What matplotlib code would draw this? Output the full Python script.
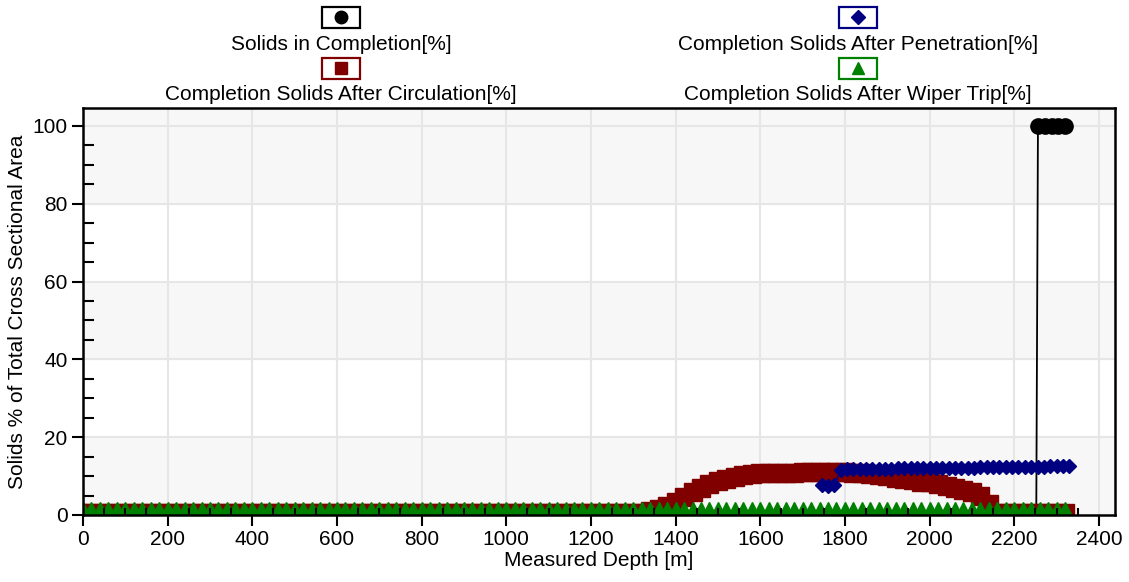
import matplotlib
matplotlib.use("Agg")
import matplotlib.pyplot as plt
from matplotlib.ticker import MultipleLocator
from matplotlib.patches import Rectangle
from matplotlib.lines import Line2D

plt.rcParams['font.family'] = ['Liberation Sans', 'DejaVu Sans']

# depth grid of the circulation / wiper-trip series [m]
depth = [
    0, 20, 40, 60, 80, 100, 120, 140, 160, 180, 200, 220, 240, 260, 280, 300,
    320, 340, 360, 380, 400, 420, 440, 460, 480, 500, 520, 540, 560, 580, 600,
    620, 640, 660, 680, 700, 720, 740, 760, 780, 800, 820, 840, 860, 880, 900,
    920, 940, 960, 980, 1000, 1020, 1040, 1060, 1080, 1100, 1120, 1140, 1160,
    1180, 1200, 1220, 1240, 1260, 1280, 1300, 1320, 1340, 1360, 1380, 1400,
    1420, 1440, 1460, 1480, 1500, 1520, 1540, 1560, 1580, 1600, 1620, 1640,
    1660, 1680, 1700, 1720, 1740, 1760, 1780, 1800, 1820, 1840, 1860, 1880,
    1900, 1920, 1940, 1960, 1980, 2000, 2020, 2040, 2060, 2080, 2100, 2120,
    2140, 2160, 2180, 2200, 2220, 2240, 2260, 2280, 2300, 2320,
]
after_circulation = [
    0.4, 0.4, 0.4, 0.4, 0.4, 0.4, 0.4, 0.4, 0.4, 0.4, 0.4, 0.4, 0.4, 0.4, 0.4, 0.4,
    0.4, 0.4, 0.4, 0.4, 0.4, 0.4, 0.4, 0.4, 0.4, 0.4, 0.4, 0.4, 0.4, 0.4, 0.4,
    0.4, 0.4, 0.4, 0.4, 0.4, 0.4, 0.4, 0.4, 0.4, 0.4, 0.4, 0.4, 0.4, 0.4, 0.4,
    0.4, 0.4, 0.4, 0.4, 0.4, 0.4, 0.4, 0.4, 0.4, 0.4, 0.4, 0.4, 0.4,
    0.4, 0.4, 0.4, 0.4, 0.4, 0.4, 0.4, 0.6, 1.0, 1.6, 2.3, 3.3,
    4.7, 6.0, 7.0, 8.0, 8.8, 9.3, 9.8, 10.2, 10.5, 10.8, 10.8, 10.9,
    10.9, 10.9, 11.0, 11.0, 11.0, 11.0, 11.0, 11.0, 10.9, 10.8, 10.6, 10.3,
    9.9, 9.5, 9.2, 8.9, 8.6, 8.4, 7.9, 7.4, 6.9, 6.3, 5.8, 5.0,
    2.8, 0.4, 0.4, 0.4, 0.4, 0.4, 0.4, 0.4, 0.4, 0.4,
]
after_wiper_trip = [
    1.5, 1.5, 1.5, 1.5, 1.5, 1.5, 1.5, 1.5, 1.5, 1.5, 1.5, 1.5, 1.5, 1.5, 1.5, 1.5,
    1.5, 1.5, 1.5, 1.5, 1.5, 1.5, 1.5, 1.5, 1.5, 1.5, 1.5, 1.5, 1.5, 1.5, 1.5,
    1.5, 1.5, 1.5, 1.5, 1.5, 1.5, 1.5, 1.5, 1.5, 1.5, 1.5, 1.5, 1.5, 1.5, 1.5,
    1.5, 1.5, 1.5, 1.5, 1.5, 1.5, 1.5, 1.5, 1.5, 1.5, 1.5, 1.5, 1.5,
    1.5, 1.5, 1.5, 1.5, 1.5, 1.5, 1.5, 1.5, 1.5, 1.5, 1.5, 1.5,
    1.5, 1.5, 1.5, 1.5, 1.5, 1.5, 1.5, 1.5, 1.5, 1.5, 1.5, 1.5,
    1.5, 1.5, 1.5, 1.5, 1.5, 1.5, 1.5, 1.5, 1.5, 1.5, 1.5, 1.5,
    1.5, 1.5, 1.5, 1.5, 1.5, 1.5, 1.5, 1.5, 1.5, 1.5, 1.5, 1.5,
    1.5, 1.5, 1.5, 1.5, 1.5, 1.5, 1.5, 1.5, 1.5, 1.5,
]

# after penetration
pen_depth = [
    1745, 1760, 1775, 1790, 1805, 1820, 1835, 1850, 1865, 1880, 1895, 1910,
    1925, 1940, 1955, 1970, 1985, 2000, 2015, 2030, 2045, 2060, 2075, 2090,
    2105, 2120, 2135, 2150, 2165, 2180, 2195, 2210, 2225, 2240, 2255, 2270,
    2285, 2300, 2315, 2330,
]
after_penetration = [
    7.6, 7.4, 7.6, 11.6, 11.7, 11.7, 11.8, 11.8, 11.8, 11.9, 11.9, 11.9,
    12.0, 12.0, 12.0, 12.0, 12.1, 12.1, 12.1, 12.1, 12.2, 12.2, 12.2, 12.2,
    12.2, 12.3, 12.3, 12.3, 12.3, 12.3, 12.4, 12.4, 12.4, 12.4, 12.4, 12.4,
    12.5, 12.5, 12.5, 12.5,
]

# solids in completion
sic_depth = [0, 2252, 2256, 2272, 2288, 2304, 2320]
solids_in_completion = [0, 0, 100, 100, 100, 100, 100]

BLACK, NAVY, MAROON, GREEN = '#000000', '#000080', '#800000', '#008000'

fig = plt.figure(figsize=(11.29, 5.82), dpi=100)
ax = fig.add_axes([83 / 1129, 67 / 582, 1032 / 1129, 407 / 582])

ax.set_xlim(0, 2438)
ax.set_ylim(0, 104.6)

# alternating background bands + grid
for lo in [0, 40, 80]:
    ax.axhspan(lo, lo + 20 if lo < 80 else 104.6, color='#f7f7f7', zorder=0)
for xv in range(200, 2401, 200):
    ax.axvline(xv, color='#e6e6e6', lw=1.5, zorder=0.5)
for yv in range(20, 101, 20):
    ax.axhline(yv, color='#e6e6e6', lw=1.5, zorder=0.5)

ax.plot(sic_depth, solids_in_completion, color=BLACK, lw=1.3, marker='o', ms=11,
        markevery=[2, 3, 4, 5, 6], zorder=1.6)
ax.plot(depth, after_circulation, color=MAROON, lw=1, marker='s', ms=13,
        ls='none', zorder=1.7)
ax.plot(pen_depth, after_penetration, color=NAVY, lw=1, marker='D', ms=7,
        zorder=1.8)
ax.plot(depth, after_wiper_trip, color=GREEN, lw=1, marker='^', ms=10,
        ls='none', zorder=1.9)

ax.set_axisbelow(False)
ax.xaxis.set_major_locator(MultipleLocator(200))
ax.xaxis.set_minor_locator(MultipleLocator(50))
ax.yaxis.set_major_locator(MultipleLocator(20))
ax.yaxis.set_minor_locator(MultipleLocator(5))
ax.tick_params(which='major', direction='out', length=8, width=1.5,
               labelsize=15, pad=3)
ax.tick_params(which='minor', direction='in', width=1.5)
ax.tick_params(axis='x', which='minor', length=5)
ax.tick_params(axis='y', which='minor', length=8)
for sp in ax.spines.values():
    sp.set_linewidth(1.8)

ax.set_xlabel('Measured Depth [m]', fontsize=15, labelpad=1)
ax.set_ylabel('Solids % of Total Cross Sectional Area', fontsize=15, labelpad=4)

# legend: boxed marker above each label, two columns
entries = [
    ('Solids in Completion[%]', BLACK, 'o', 341, 17),
    ('Completion Solids After Penetration[%]', NAVY, 'D', 858, 17),
    ('Completion Solids After Circulation[%]', MAROON, 's', 341, 68),
    ('Completion Solids After Wiper Trip[%]', GREEN, '^', 858, 68),
]
W, H = 1129, 582
for label, col, mk, cx, cy in entries:
    fig.add_artist(Rectangle(((cx - 19) / W, 1 - (cy + 10.5) / H), 38 / W, 21 / H,
                             transform=fig.transFigure, fill=False,
                             edgecolor=col, lw=1.6))
    fig.add_artist(Line2D([cx / W], [1 - cy / H], transform=fig.transFigure,
                          marker=mk, color=col, ms=9 if mk != 'D' else 7,
                          ls='none'))
    fig.text(cx / W, 1 - (cy + 27) / H, label, ha='center', va='center',
             fontsize=15)

fig.savefig('out.png', dpi=100)
